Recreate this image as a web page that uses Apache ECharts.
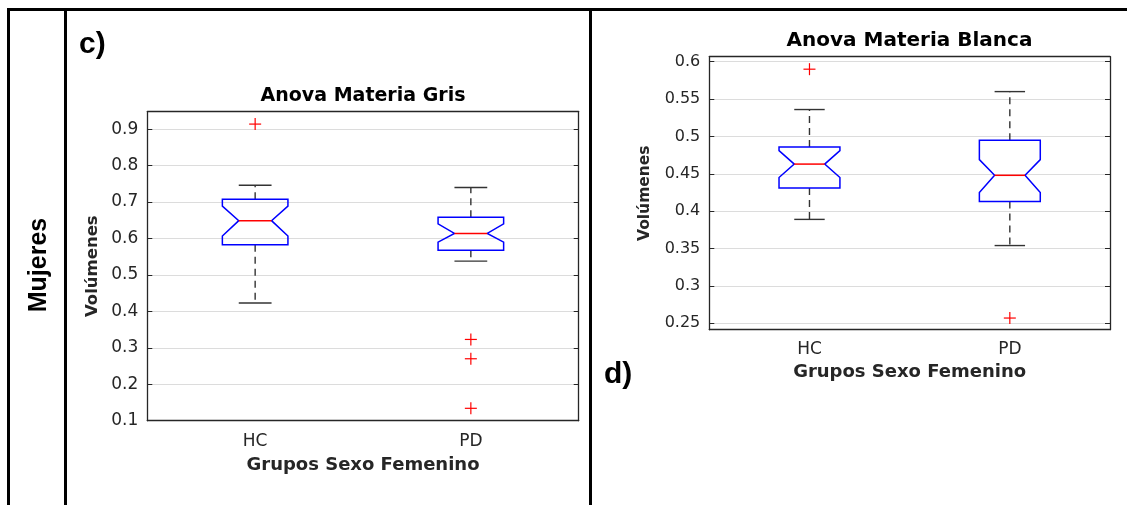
<!DOCTYPE html>
<html>
<head>
<meta charset="utf-8">
<script src="https://cdn.jsdelivr.net/npm/echarts@6/dist/echarts.min.js"></script>
<style>
html,body{margin:0;padding:0;background:#fff;}
#chart{width:1127px;height:505px;}
</style>
</head>
<body>
<div id="chart"></div>
<script>
// ---- data ----
const categories = ['HC', 'PD'];
// each row: [lowerWhisker, q1, notchLow, median, notchHigh, q3, upperWhisker]
const grisStats = [
  [0.423, 0.583, 0.607, 0.649, 0.689, 0.708, 0.746],
  [0.538, 0.568, 0.590, 0.614, 0.640, 0.658, 0.740]
];
const grisOutliers = [[0, 0.914], [1, 0.323], [1, 0.270], [1, 0.134]];
const blancaStats = [
  [0.389, 0.431, 0.445, 0.463, 0.481, 0.486, 0.536],
  [0.354, 0.413, 0.425, 0.448, 0.469, 0.495, 0.560]
];
const blancaOutliers = [[0, 0.590], [1, 0.257]];
const grisRange = [0.1, 0.948];
const grisStep = 0.1;
const blancaRange = [0.2414, 0.6067];
const blancaStep = 0.05;

const titles = ['Anova Materia Gris', 'Anova Materia Blanca'];
const yName = 'Volúmenes';
const xName = 'Grupos Sexo Femenino';
const rowLabel = 'Mujeres';
const panelLabels = ['c)', 'd)'];

// ---- rendering ----
const AX = '#262626';
const FONT = 'DejaVu Sans';

function boxRender(params, api) {
  const c = api.value(0);
  const v = [1, 2, 3, 4, 5, 6, 7].map(i => api.value(i));
  const band = api.size([1, 0])[0];
  const hw = band * 0.152, nw = band * 0.076, cw = band * 0.076;
  const y = val => api.coord([c, val])[1];
  const x = api.coord([c, v[3]])[0];
  const [lw, q1, nl, md, nh, q3, uw] = v.map(y);
  const wStyle = {stroke: '#333', lineWidth: 1.4, lineDash: [7, 5], fill: null};
  const cStyle = {stroke: '#333', lineWidth: 1.4, fill: null};
  return {
    type: 'group',
    children: [
      {type: 'line', shape: {x1: x, y1: q3, x2: x, y2: uw}, style: wStyle},
      {type: 'line', shape: {x1: x, y1: q1, x2: x, y2: lw}, style: wStyle},
      {type: 'line', shape: {x1: x - cw, y1: uw, x2: x + cw, y2: uw}, style: cStyle},
      {type: 'line', shape: {x1: x - cw, y1: lw, x2: x + cw, y2: lw}, style: cStyle},
      {type: 'polygon', shape: {points: [
        [x - hw, q3], [x + hw, q3], [x + hw, nh], [x + nw, md], [x + hw, nl],
        [x + hw, q1], [x - hw, q1], [x - hw, nl], [x - nw, md], [x - hw, nh]
      ]}, style: {stroke: '#0000ff', lineWidth: 1.5, fill: null}},
      {type: 'line', shape: {x1: x - nw, y1: md, x2: x + nw, y2: md}, style: {stroke: '#ff0000', lineWidth: 1.5}}
    ]
  };
}
function plusRender(params, api) {
  const p = api.coord([api.value(0), api.value(1)]);
  const s = 6;
  const st = {stroke: '#ff0000', lineWidth: 1.2};
  return {type: 'group', children: [
    {type: 'line', shape: {x1: p[0] - s, y1: p[1], x2: p[0] + s, y2: p[1]}, style: st},
    {type: 'line', shape: {x1: p[0], y1: p[1] - s, x2: p[0], y2: p[1] + s}, style: st}
  ]};
}
function fmtTick(step) {
  return function (val) {
    const k = val / step;
    if (Math.abs(k - Math.round(k)) > 1e-6) return '';
    return String(+(Math.round(k) * step).toFixed(3));
  };
}

function axesFor(g, range, step, splitN, lblSize, nameSize, yGap, xGap, lblMargin, xLblSize) {
  const xs = [
    {type: 'category', gridIndex: g, data: categories, position: 'bottom',
     axisLine: {lineStyle: {color: AX, width: 1.3}},
     axisTick: {inside: true, alignWithLabel: true, length: 5, lineStyle: {color: AX}},
     axisLabel: {fontFamily: FONT, fontSize: xLblSize, color: AX, margin: lblMargin},
     name: xName, nameLocation: 'middle', nameGap: xGap,
     nameTextStyle: {fontFamily: FONT, fontWeight: 'bold', fontSize: 18, color: AX},
     splitLine: {show: false}},
    {type: 'category', gridIndex: g, data: categories, position: 'top',
     axisLine: {lineStyle: {color: AX, width: 1.3}},
     axisTick: {inside: true, alignWithLabel: true, length: 5, lineStyle: {color: AX}},
     axisLabel: {show: false}, splitLine: {show: false}}
  ];
  const ys = [
    {type: 'value', gridIndex: g, min: range[0], max: range[1], splitNumber: splitN, position: 'left',
     axisLine: {show: true, lineStyle: {color: AX, width: 1.3}},
     axisTick: {show: true, inside: true, length: 5, lineStyle: {color: AX}},
     axisLabel: {fontFamily: FONT, fontSize: lblSize, color: AX, margin: 9, formatter: fmtTick(step),
                 showMinLabel: true, showMaxLabel: true},
     splitLine: {show: true, lineStyle: {color: '#dcdcdc', width: 1}},
     name: yName, nameLocation: 'middle', nameGap: yGap,
     nameTextStyle: {fontFamily: FONT, fontWeight: 'bold', fontSize: nameSize, color: AX}},
    {type: 'value', gridIndex: g, min: range[0], max: range[1], splitNumber: splitN, position: 'right',
     axisLine: {show: true, lineStyle: {color: AX, width: 1.3}},
     axisTick: {show: true, inside: true, length: 5, lineStyle: {color: AX}},
     axisLabel: {show: false}, splitLine: {show: false}}
  ];
  return {xs, ys};
}

const a0 = axesFor(0, grisRange, grisStep, 8, 17, 16.5, 46, 36, 12, 17);
const a1 = axesFor(1, blancaRange, blancaStep, 7, 16, 15.5, 56, 34, 11, 17);

const option = {
  animation: false,
  backgroundColor: '#fff',
  title: [
    {text: titles[0], left: 363, top: 96, textAlign: 'center', textVerticalAlign: 'middle', padding: 0,
     textStyle: {fontFamily: FONT, fontWeight: 'bold', fontSize: 19, color: '#000'}},
    {text: titles[1], left: 909.5, top: 41, textAlign: 'center', textVerticalAlign: 'middle', padding: 0,
     textStyle: {fontFamily: FONT, fontWeight: 'bold', fontSize: 20, color: '#000'}}
  ],
  grid: [
    {left: 147.3, top: 111.7, width: 431.4, height: 309, containLabel: false},
    {left: 709.3, top: 56.7, width: 400.7, height: 273, containLabel: false}
  ],
  xAxis: [...a0.xs, ...a1.xs],
  yAxis: [...a0.ys, ...a1.ys],
  series: [
    {type: 'custom', name: 'Gris', xAxisIndex: 0, yAxisIndex: 0, renderItem: boxRender,
     encode: {x: 0, y: [1, 2, 3, 4, 5, 6, 7]},
     data: grisStats.map((r, i) => [i, ...r])},
    {type: 'custom', name: 'Gris outliers', xAxisIndex: 0, yAxisIndex: 0, renderItem: plusRender,
     encode: {x: 0, y: 1}, data: grisOutliers},
    {type: 'custom', name: 'Blanca', xAxisIndex: 2, yAxisIndex: 2, renderItem: boxRender,
     encode: {x: 0, y: [1, 2, 3, 4, 5, 6, 7]},
     data: blancaStats.map((r, i) => [i, ...r])},
    {type: 'custom', name: 'Blanca outliers', xAxisIndex: 2, yAxisIndex: 2, renderItem: plusRender,
     encode: {x: 0, y: 1}, data: blancaOutliers}
  ],
  graphic: [
    {type: 'rect', shape: {x: 7, y: 8, width: 1120, height: 3}, style: {fill: '#000'}},
    {type: 'rect', shape: {x: 7, y: 8, width: 3, height: 497}, style: {fill: '#000'}},
    {type: 'rect', shape: {x: 64, y: 8, width: 3, height: 497}, style: {fill: '#000'}},
    {type: 'rect', shape: {x: 589, y: 8, width: 3, height: 497}, style: {fill: '#000'}},
    {type: 'text', x: 39, y: 265, rotation: Math.PI / 2,
     style: {text: rowLabel, font: 'bold 25px "Liberation Sans"', fill: '#000', align: 'center', verticalAlign: 'middle'}},
    {type: 'text', x: 79, y: 45,
     style: {text: panelLabels[0], font: 'bold 30px "Liberation Sans"', fill: '#000', align: 'left', verticalAlign: 'middle'}},
    {type: 'text', x: 604, y: 375,
     style: {text: panelLabels[1], font: 'bold 30px "Liberation Sans"', fill: '#000', align: 'left', verticalAlign: 'middle'}}
  ]
};

const chart = echarts.init(document.getElementById('chart'), null, {renderer: 'canvas'});
chart.setOption(option);
</script>
</body>
</html>
